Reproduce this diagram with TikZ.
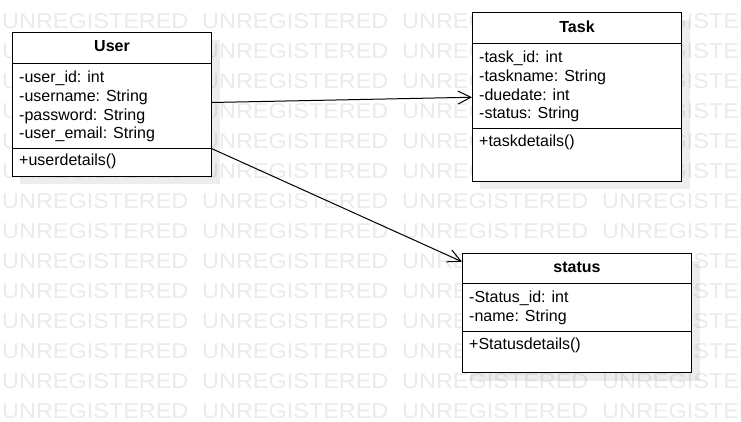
\documentclass[tikz,border=0pt]{standalone}
\usepackage{fontspec}
\setmainfont{Liberation Sans}
\usetikzlibrary{arrows.meta}
\begin{document}
\begin{tikzpicture}[x=1pt,y=-1pt,
  wm/.style={anchor=base west, inner sep=0pt, text=black!8,
    font=\fontsize{21.5}{21.5}\selectfont, xscale=1.09},
  umlbox/.style={draw=black, line width=1pt, fill=white, inner sep=0pt, anchor=north west},
  shadowbox/.style={fill=black, opacity=0.07},
  divider/.style={draw=black, line width=1pt},
  ttl/.style={anchor=base, inner sep=0pt, font=\fontsize{16}{19}\selectfont\bfseries},
  attr/.style={anchor=base west, inner sep=0pt, font=\fontsize{16}{19}\selectfont},
  conn/.style={draw=black, line width=1pt, -{Straight Barb[length=13pt,width=13pt]}}
]
\useasboundingbox (0,0) rectangle (741,422);
\fill[white] (0,0) rectangle (741,422);
% watermark
\begin{scope}
\clip (0,0) rectangle (741,422);
\foreach \k in {0,...,13} {
  \foreach \j in {0,...,3} {
    \node[wm] (wm-\k-\j) at ({2+200*\j},{28.3+30*\k}) {UNREGISTERED};
  }
}
\end{scope}
% shadows
\fill[shadowbox] (20,40) rectangle (219.5,184.5);
\fill[shadowbox] (480,20.5) rectangle (689.5,189.5);
\fill[shadowbox] (470,260.7) rectangle (699.5,380.5);
% User
\node[umlbox, minimum width=199pt, minimum height=144pt] (user) at (12,32) {};
\draw[divider] (user.north west) ++(0,31.3) -- ++(199,0);
\draw[divider] (user.north west) ++(0,116.3) coordinate (usepl) -- ++(199,0) coordinate (usep);
\node[ttl] (user-t) at ([yshift=-20pt]user.north) {User};
\node[attr] (user-a1) at ([xshift=7pt,yshift=-50.8pt]user.north west) {-user\_id: int};
\node[attr] (user-a2) at ([xshift=7pt,yshift=-69.5pt]user.north west) {-username: String};
\node[attr] (user-a3) at ([xshift=7pt,yshift=-88.2pt]user.north west) {-password: String};
\node[attr] (user-a4) at ([xshift=7pt,yshift=-106.9pt]user.north west) {-user\_email: String};
\node[attr] (user-m1) at ([xshift=7pt,yshift=-133.8pt]user.north west) {+userdetails()};
% Task
\node[umlbox, minimum width=209pt, minimum height=168.5pt] (task) at (472,12.5) {};
\draw[divider] (task.north west) ++(0,30.8) -- ++(209,0);
\draw[divider] (task.north west) ++(0,115.8) -- ++(209,0);
\node[ttl] (task-t) at ([yshift=-20pt]task.north) {Task};
\node[attr] (task-a1) at ([xshift=7pt,yshift=-50.3pt]task.north west) {-task\_id: int};
\node[attr] (task-a2) at ([xshift=7pt,yshift=-69pt]task.north west) {-taskname: String};
\node[attr] (task-a3) at ([xshift=7pt,yshift=-87.7pt]task.north west) {-duedate: int};
\node[attr] (task-a4) at ([xshift=7pt,yshift=-106.4pt]task.north west) {-status: String};
\node[attr] (task-m1) at ([xshift=7pt,yshift=-133.8pt]task.north west) {+taskdetails()};
% status
\node[umlbox, minimum width=229pt, minimum height=119.5pt] (status) at (462,252.7) {};
\draw[divider] (status.north west) ++(0,30.6) -- ++(229,0);
\draw[divider] (status.north west) ++(0,79) -- ++(229,0);
\node[ttl] (status-t) at ([yshift=-20pt]status.north) {status};
\node[attr] (status-a1) at ([xshift=7pt,yshift=-49.8pt]status.north west) {-Status\_id: int};
\node[attr] (status-a2) at ([xshift=7pt,yshift=-68.5pt]status.north west) {-name: String};
\node[attr] (status-m1) at ([xshift=7pt,yshift=-96.8pt]status.north west) {+Statusdetails()};
% connectors
\coordinate (sin) at ([yshift=-9pt]status.north west);
\draw[conn] ([yshift=2pt]user.east) -- (task.west);
\draw[conn] (usep) -- (sin);
\end{tikzpicture}
\end{document}
